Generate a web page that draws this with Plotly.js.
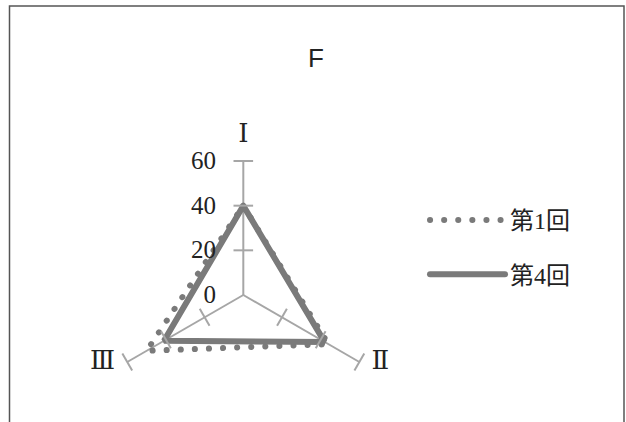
<!DOCTYPE html>
<html>
<head>
<meta charset="utf-8">
<script src="https://cdn.plot.ly/plotly-3.0.1.min.js"></script>
<style>
  html, body { margin: 0; padding: 0; overflow: hidden; background: #fff; }
  #chart { width: 626px; height: 450px; }
  /* round dots for the dotted series */
  .scatterlayer .trace:first-child path.js-line,
  .legend .traces:first-child path.js-line { stroke-linecap: round !important; }
</style>
</head>
<body>
<div id="chart"></div>
<script>
// Radar chart "F": scores on three dimensions, round 1 vs round 4
const categories = ["Ⅰ", "Ⅱ", "Ⅲ"];
const round1 = [40, 44, 50];
const round4 = [40, 42, 41];
const seriesNames = ["第1回", "第4回"];
const tickValues = [0, 20, 40, 60];
const tickMarkValues = [20, 40, 60];
const axisMax = 60;

const serif = "Liberation Serif, Noto Sans CJK JP, serif";
const numeralFont = "DejaVu Serif, Liberation Serif, serif";
const gray = "#7a7a7a";
const axisGray = "#a6a6a6";

// close the polygon by repeating the first vertex
const closeLoop = a => a.concat([a[0]]);

// small cross ticks on every spoke
const tickR = [], tickTheta = [], tickAngle = [];
const spokeTickAngle = [0, -60, 60];
categories.forEach((c, i) => {
  tickMarkValues.forEach(v => {
    tickR.push(v);
    tickTheta.push(c);
    tickAngle.push(spokeTickAngle[i]);
  });
});

const traces = [
  {
    type: "scatterpolar",
    r: closeLoop(round1),
    theta: closeLoop(categories),
    name: seriesNames[0],
    mode: "lines",
    line: { color: gray, width: 6, dash: "0.1px,14px" },
    legendgroup: "a",
    hoverinfo: "skip"
  },
  {
    type: "scatterpolar",
    r: closeLoop(round4),
    theta: closeLoop(categories),
    name: seriesNames[1],
    mode: "lines",
    line: { color: gray, width: 6 },
    legendgroup: "b",
    hoverinfo: "skip"
  },
  {
    type: "scatterpolar",
    r: tickR,
    theta: tickTheta,
    mode: "markers",
    showlegend: false,
    hoverinfo: "skip",
    marker: {
      symbol: "line-ew",
      size: 14,
      angle: tickAngle,
      color: axisGray,
      line: { color: axisGray, width: 2 }
    }
  },
  {
    // category names just beyond the end of each spoke
    type: "scatterpolar",
    r: categories.map(() => axisMax),
    theta: categories,
    text: categories,
    mode: "markers+text",
    textposition: ["top center", "middle right", "middle left"],
    textfont: { family: numeralFont, size: 26, color: "#222" },
    marker: { size: 18, opacity: 0 },
    showlegend: false,
    hoverinfo: "skip",
    cliponaxis: false
  }
];

const W = 626, H = 450;
const cx = 243.3, cy = 295, R = 134;

const layout = {
  width: W,
  height: H,
  margin: { l: 0, r: 0, t: 0, b: 0 },
  paper_bgcolor: "#fff",
  title: {
    text: "F",
    font: { family: "Liberation Sans, Arial, sans-serif", size: 26, color: "#222" },
    x: 316 / W, xanchor: "center",
    y: 1 - 58 / H, yanchor: "middle"
  },
  polar: {
    domain: {
      x: [(cx - R) / W, (cx + R) / W],
      y: [(H - cy - R) / H, (H - cy + R) / H]
    },
    bgcolor: "rgba(0,0,0,0)",
    radialaxis: {
      range: [0, axisMax],
      angle: 90,
      tickvals: tickValues,
      ticktext: tickValues.map(String),
      ticks: "outside",
      ticklen: 18,
      tickcolor: "rgba(0,0,0,0)",
      tickangle: 90,
      showline: false,
      showgrid: false,
      side: "counterclockwise",
      tickfont: { family: serif, size: 25, color: "#222" }
    },
    angularaxis: {
      type: "category",
      categoryarray: categories,
      direction: "clockwise",
      rotation: 90,
      showline: false,
      showgrid: true,
      gridcolor: axisGray,
      gridwidth: 2,
      ticks: "",
      showticklabels: false
    }
  },
  showlegend: true,
  legend: {
    x: 425 / W, xanchor: "left",
    y: 1 - 198 / H, yanchor: "top",
    itemwidth: 75,
    tracegroupgap: 20,
    font: { family: serif, size: 24, color: "#222" },
    bgcolor: "rgba(0,0,0,0)"
  },
  shapes: [
    {
      type: "rect", xref: "paper", yref: "paper",
      x0: 9.5 / W, x1: 624 / W, y0: -0.05, y1: 1 - 6 / H,
      line: { color: "#555", width: 1.5 }
    }
  ]
};

Plotly.newPlot("chart", traces, layout, { displayModeBar: false, staticPlot: true });
</script>
</body>
</html>
